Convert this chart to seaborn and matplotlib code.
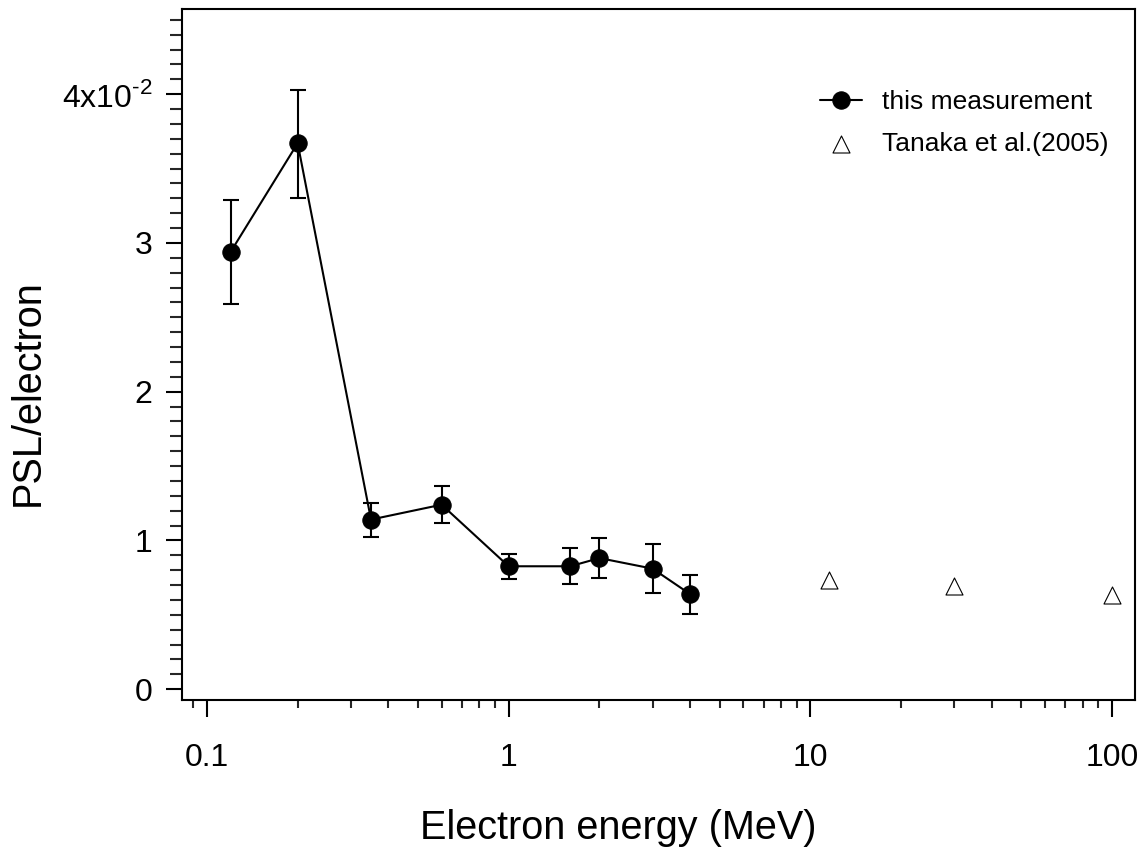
import numpy as np
import pandas as pd
import matplotlib
matplotlib.use("Agg")
import matplotlib.pyplot as plt
import matplotlib.ticker as mticker
import seaborn as sns

energy = [0.12, 0.2, 0.35, 0.6, 1.0, 1.6, 2.0, 3.0, 4.0]
psl = [0.0294, 0.0367, 0.0114, 0.0124, 0.00826, 0.00826, 0.00881, 0.0081, 0.00638]
psl_low = [0.02586, 0.0330, 0.01022, 0.01119, 0.0074, 0.00705, 0.00747, 0.00646, 0.00508]
psl_high = [0.0329, 0.0403, 0.01248, 0.01367, 0.00908, 0.00951, 0.01015, 0.00973, 0.00767]

# Tanaka et al. (2005)
tanaka_energy = [11.5, 30.0, 100.0]
tanaka_psl = [0.00733, 0.00695, 0.00636]

y_ticks = [0.0, 0.01, 0.02, 0.03, 0.04]
y_ticklabels = ["0", "1", "2", "3", r"4x10$^{\text{-2}}$"]
x_ticks = [0.1, 1, 10, 100]
x_ticklabels = ["0.1", "1", "10", "100"]

sns.set_theme(style="ticks")
plt.rcParams["font.family"] = ["Liberation Sans", "DejaVu Sans"]
plt.rcParams["mathtext.fontset"] = "custom"
plt.rcParams["mathtext.rm"] = "Liberation Sans"
plt.rcParams["text.color"] = "black"
plt.rcParams["axes.labelcolor"] = "black"

df = pd.DataFrame({"energy": energy, "psl": psl})
df_t = pd.DataFrame({"energy": tanaka_energy, "psl": tanaka_psl})

fig = plt.figure(figsize=(11.43, 8.5), dpi=100)
ax = fig.add_axes([0.159, 0.177, 0.834, 0.812])

# error bars
yerr = [np.array(psl) - np.array(psl_low), np.array(psl_high) - np.array(psl)]
ax.errorbar(energy, psl, yerr=yerr, fmt="none", ecolor="black",
            elinewidth=1.5, capsize=5.5, capthick=1.5, zorder=2)

sns.lineplot(data=df, x="energy", y="psl", ax=ax, color="black", lw=1.5,
             marker="o", markersize=12.5, markeredgecolor="black",
             label="this measurement", zorder=3)
sns.scatterplot(data=df_t, x="energy", y="psl", ax=ax, marker="^", s=150,
                facecolor="white", edgecolor="black", linewidth=0.8,
                label="Tanaka et al.(2005)", zorder=3)

ax.set_xscale("log")
ax.set_xlim(0.0826, 119)
ax.set_ylim(-0.0007, 0.0457)

ax.set_xticks(x_ticks)
ax.set_xticklabels(x_ticklabels)
ax.xaxis.set_minor_locator(mticker.LogLocator(base=10, subs=np.arange(2, 10)))
ax.xaxis.set_minor_formatter(mticker.NullFormatter())
ax.set_yticks(y_ticks)
ax.set_yticklabels(y_ticklabels)
ax.yaxis.set_minor_locator(mticker.MultipleLocator(0.001))

ax.tick_params(axis="both", which="major", direction="out", width=1.5,
               labelsize=23, color="black", labelcolor="black")
ax.tick_params(axis="x", which="major", length=12, pad=19)
ax.tick_params(axis="x", which="minor", length=6, width=1.5, direction="out")
ax.tick_params(axis="y", which="major", length=11.5, pad=9.5)
ax.tick_params(axis="y", which="minor", length=8.4, width=1.5, direction="out")

for side in ["left", "right", "top", "bottom"]:
    ax.spines[side].set_visible(True)
    ax.spines[side].set_linewidth(1.5)
    ax.spines[side].set_color("black")

ax.set_xlabel("Electron energy (MeV)", fontsize=28.5)
ax.set_ylabel("PSL/electron", fontsize=28.5)
ax.xaxis.set_label_coords(0.4577, -0.158)
ax.yaxis.set_label_coords(-0.142, 0.445)

ax.legend(loc="upper left", bbox_to_anchor=(0.6696, 0.883), frameon=False,
          fontsize=19, handlelength=1.6, handletextpad=0.76, labelspacing=0.68,
          borderpad=0, borderaxespad=0)

fig.savefig("out.png", dpi=100)
